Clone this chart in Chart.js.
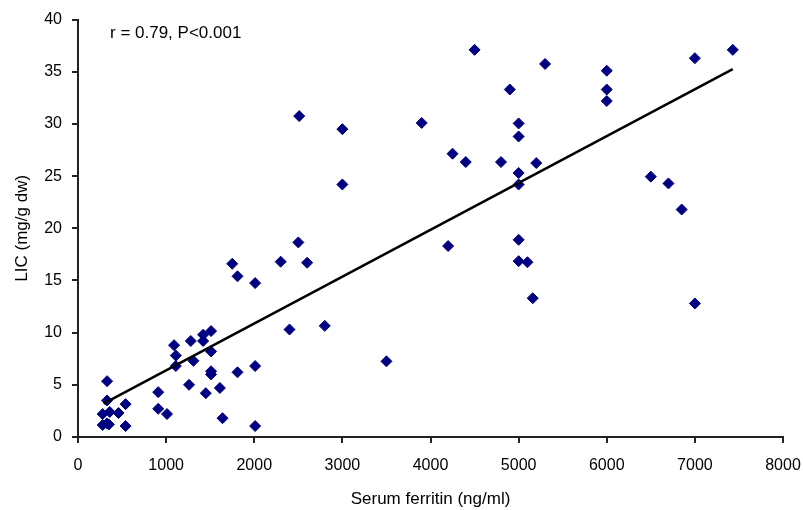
<!DOCTYPE html>
<html>
<head>
<meta charset="utf-8">
<script src="https://cdn.jsdelivr.net/npm/chart.js@4.4.0/dist/chart.umd.min.js"></script>
<style>
  html, body { margin: 0; padding: 0; background: #fff; }
  #wrap { width: 803px; height: 510px; }
</style>
</head>
<body>
<div id="wrap"><canvas id="mycanvas" width="803" height="510"></canvas></div>
<script>
// serum ferritin (ng/ml) and LIC (mg/g dw)
var ferritin = [330, 330, 280, 360, 460, 540, 280, 330, 350, 540,
  910, 910, 1010, 1090, 1110, 1110, 1280, 1310, 1260, 1420,
  1420, 1510, 1510, 1510, 1510, 1450, 1610, 1640, 1750, 1810,
  2010, 1810, 2010, 2010, 2300, 2600, 2400, 3000, 2500, 2800,
  2510, 3000, 3500, 4500, 5300, 4900, 3900, 5000, 5000, 4250,
  4400, 4800, 5200, 5000, 5000, 4200, 5000, 5000, 5100, 5160,
  6000, 6000, 6000, 7000, 7430, 6500, 6700, 6850, 7000];
var lic = [5.35, 3.5, 2.2, 2.4, 2.3, 3.15, 1.15, 1.3, 1.2, 1.05,
  4.3, 2.7, 2.2, 8.8, 7.8, 6.8, 9.2, 7.3, 5.0, 9.8,
  9.2, 10.15, 8.2, 6.3, 6.0, 4.2, 4.7, 1.8, 16.6, 15.4,
  14.75, 6.2, 6.8, 1.05, 16.8, 16.7, 10.3, 24.2, 18.65, 10.65,
  30.75, 29.5, 7.25, 37.1, 35.75, 33.3, 30.1, 30.05, 28.8, 27.15,
  26.35, 26.35, 26.25, 25.3, 24.2, 18.3, 18.9, 16.85, 16.75, 13.3,
  35.1, 33.3, 32.2, 36.3, 37.1, 24.95, 24.3, 21.8, 12.8];

// regression line end points
var trendX = [290, 7430];
var trendY = [3.2, 35.25];

var xTicks = [0, 1000, 2000, 3000, 4000, 5000, 6000, 7000, 8000];
var yTicks = [0, 5, 10, 15, 20, 25, 30, 35, 40];

var scatterPoints = [];
for (var i in ferritin) {
  scatterPoints.push({x: ferritin[i], y: lic[i]});
}
var linePoints = [];
for (var j in trendX) {
  linePoints.push({x: trendX[j], y: trendY[j]});
}

var statsLabel = {
  id: 'statsLabel',
  afterDraw: function(chart) {
    var ctx = chart.ctx;
    ctx.save();
    ctx.font = '17px "Liberation Sans", Arial, sans-serif';
    ctx.fillStyle = '#000';
    ctx.textBaseline = 'middle';
    ctx.fillText('r = 0.79, P<0.001', 110, 33);
    ctx.restore();
  }
};

var chartdata = {
  datasets: [
    {
      type: 'scatter',
      label: 'LIC',
      data: scatterPoints,
      pointStyle: 'rectRot',
      pointRadius: 5.5,
      pointHoverRadius: 5.5,
      backgroundColor: '#000080',
      borderColor: '#000080',
      borderWidth: 1,
      order: 2
    },
    {
      type: 'line',
      label: 'trend',
      data: linePoints,
      borderColor: '#000',
      borderWidth: 2.5,
      pointRadius: 0,
      fill: false,
      order: 1
    }
  ]
};

var tickFont = {family: '"Liberation Sans", Arial, sans-serif', size: 16};
var titleFont = {family: '"Liberation Sans", Arial, sans-serif', size: 17};

var ctx = document.getElementById('mycanvas');
var chart = new Chart(ctx, {
  data: chartdata,
  plugins: [statsLabel],
  options: {
    responsive: false,
    animation: false,
    events: [],
    layout: {padding: {top: 18, right: 20, bottom: 0, left: 0}},
    plugins: {legend: {display: false}, tooltip: {enabled: false}},
    scales: {
      x: {
        type: 'linear',
        min: 0,
        max: 8000,
        afterBuildTicks: function(axis) {
          axis.ticks = xTicks.map(function(v) { return {value: v}; });
        },
        afterFit: function(axis) {
          axis.height = 73;
          axis.paddingRight = 0;
          axis.paddingLeft = 0;
        },
        grid: {drawOnChartArea: false, drawTicks: true, tickLength: 6, color: '#222', lineWidth: 2},
        border: {color: '#222', width: 2},
        ticks: {
          color: '#000', font: tickFont, padding: 13, maxRotation: 0,
          callback: function(v) { return String(v); }
        },
        title: {display: true, text: 'Serum ferritin (ng/ml)', color: '#000', font: titleFont, padding: {top: 0, bottom: 0}}
      },
      y: {
        type: 'linear',
        min: 0,
        max: 40,
        afterBuildTicks: function(axis) {
          axis.ticks = yTicks.map(function(v) { return {value: v}; });
        },
        afterFit: function(axis) { axis.width = 78; },
        grid: {drawOnChartArea: false, drawTicks: true, tickLength: 6, color: '#222', lineWidth: 2},
        border: {color: '#222', width: 2},
        ticks: {
          color: '#000', font: tickFont, padding: 10,
          callback: function(v) { return String(v); }
        },
        title: {display: true, text: 'LIC (mg/g dw)', color: '#000', font: titleFont, padding: {top: 12, bottom: 0}}
      }
    }
  }
});
</script>
</body>
</html>
